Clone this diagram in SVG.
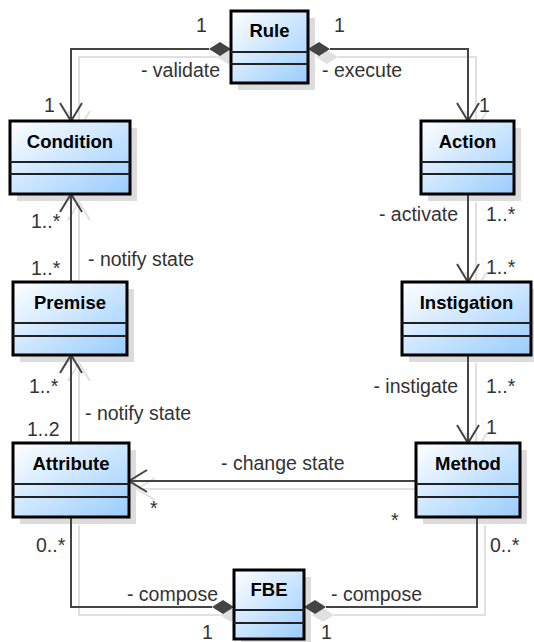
<svg xmlns="http://www.w3.org/2000/svg" xmlns:xlink="http://www.w3.org/1999/xlink" width="534" height="642" viewBox="0 0 534 642">
<defs>
<linearGradient id="fill" x1="0" y1="0" x2="1" y2="1">
<stop offset="0" stop-color="#ffffff"/>
<stop offset="1" stop-color="#99ccff"/>
</linearGradient>
<style>
.box{fill:url(#fill);stroke:#000;stroke-width:3}
.div{stroke:#222;stroke-width:2}
.sh{fill:#dcdcdc}
.name{font-family:"Liberation Sans",Arial,sans-serif;font-size:18.5px;font-weight:bold;fill:#000;text-anchor:middle}
.lbl{font-family:"Liberation Sans",Arial,sans-serif;font-size:19.5px;fill:#333}
.end{text-anchor:end}
.ln{fill:none;stroke:currentColor;stroke-width:2}
.dia{fill:currentColor;stroke:none}
</style>
</defs>
<rect width="534" height="642" fill="#fff"/>
<use xlink:href="#conn-paths" href="#conn-paths" transform="translate(8,8)" color="#e0e0e0"/>
<g id="shadows">
<rect class="sh" x="238" y="18" width="77" height="72"/>
<rect class="sh" x="17" y="128" width="120" height="73"/>
<rect class="sh" x="428" y="128" width="93" height="73"/>
<rect class="sh" x="20" y="289" width="114" height="73"/>
<rect class="sh" x="409" y="289" width="129" height="73"/>
<rect class="sh" x="20" y="450" width="116" height="74"/>
<rect class="sh" x="423" y="450" width="104" height="74"/>
<rect class="sh" x="241" y="577" width="70" height="69"/>
</g>
<g id="connectors" color="#444">
<g id="conn-paths">
<path class="ln" d="M209,49 H71 V121"/>
<path class="ln" d="M60,103 L71,121 L82,103"/>
<path class="dia" d="M209,49 L220,42 L231,49 L220,56 Z"/>
<path class="ln" d="M330,49 H468 V121"/>
<path class="ln" d="M457,103 L468,121 L479,103"/>
<path class="dia" d="M308,49 L319,42 L330,49 L319,56 Z"/>
<path class="ln" d="M71,282 V194"/>
<path class="ln" d="M60,212 L71,194 L82,212"/>
<path class="ln" d="M468,194 V282"/>
<path class="ln" d="M457,264 L468,282 L479,264"/>
<path class="ln" d="M71,443 V355"/>
<path class="ln" d="M60,373 L71,355 L82,373"/>
<path class="ln" d="M468,355 V443"/>
<path class="ln" d="M457,425 L468,443 L479,425"/>
<path class="ln" d="M416,481 H129"/>
<path class="ln" d="M147,470 L129,481 L147,492"/>
<path class="ln" d="M71,517 V607 H212"/>
<path class="dia" d="M212,607 L223,600 L234,607 L223,614 Z"/>
<path class="ln" d="M477,517 V607 H326"/>
<path class="dia" d="M304,607 L315,600 L326,607 L315,614 Z"/>
</g>
</g>
<g id="Rule">
<rect class="box" x="231" y="11" width="77" height="72"/>
<line class="div" x1="231" y1="52" x2="308" y2="52"/>
<line class="div" x1="231" y1="64" x2="308" y2="64"/>
<text class="name" x="269.5" y="37">Rule</text>
</g>
<g id="Condition">
<rect class="box" x="10" y="121" width="120" height="73"/>
<line class="div" x1="10" y1="162" x2="130" y2="162"/>
<line class="div" x1="10" y1="174" x2="130" y2="174"/>
<text class="name" x="70" y="148">Condition</text>
</g>
<g id="Action">
<rect class="box" x="421" y="121" width="93" height="73"/>
<line class="div" x1="421" y1="162" x2="514" y2="162"/>
<line class="div" x1="421" y1="174" x2="514" y2="174"/>
<text class="name" x="467.5" y="148">Action</text>
</g>
<g id="Premise">
<rect class="box" x="13" y="282" width="114" height="73"/>
<line class="div" x1="13" y1="323" x2="127" y2="323"/>
<line class="div" x1="13" y1="336" x2="127" y2="336"/>
<text class="name" x="70" y="309">Premise</text>
</g>
<g id="Instigation">
<rect class="box" x="402" y="282" width="129" height="73"/>
<line class="div" x1="402" y1="323" x2="531" y2="323"/>
<line class="div" x1="402" y1="336" x2="531" y2="336"/>
<text class="name" x="466.5" y="309">Instigation</text>
</g>
<g id="Attribute">
<rect class="box" x="13" y="443" width="116" height="74"/>
<line class="div" x1="13" y1="484" x2="129" y2="484"/>
<line class="div" x1="13" y1="497" x2="129" y2="497"/>
<text class="name" x="71" y="470">Attribute</text>
</g>
<g id="Method">
<rect class="box" x="416" y="443" width="104" height="74"/>
<line class="div" x1="416" y1="484" x2="520" y2="484"/>
<line class="div" x1="416" y1="497" x2="520" y2="497"/>
<text class="name" x="468" y="470">Method</text>
</g>
<g id="FBE">
<rect class="box" x="234" y="570" width="70" height="69"/>
<line class="div" x1="234" y1="610" x2="304" y2="610"/>
<line class="div" x1="234" y1="623" x2="304" y2="623"/>
<text class="name" x="269" y="596">FBE</text>
</g>
<g id="labels">
<text class="lbl" x="196" y="32">1</text>
<text class="lbl" x="334" y="32">1</text>
<text class="lbl end" x="220" y="77">- validate</text>
<text class="lbl" x="322" y="77">- execute</text>
<text class="lbl" x="44" y="112">1</text>
<text class="lbl" x="479" y="112">1</text>
<text class="lbl" x="31" y="228">1..*</text>
<text class="lbl" x="31" y="275">1..*</text>
<text class="lbl" x="88" y="266">- notify state</text>
<text class="lbl end" x="458" y="221">- activate</text>
<text class="lbl" x="486" y="221">1..*</text>
<text class="lbl" x="486" y="274">1..*</text>
<text class="lbl" x="29" y="393">1..*</text>
<text class="lbl end" x="458" y="393">- instigate</text>
<text class="lbl" x="486" y="393">1..*</text>
<text class="lbl" x="85" y="420">- notify state</text>
<text class="lbl" x="27" y="436">1..2</text>
<text class="lbl" x="486" y="434">1</text>
<text class="lbl" x="221" y="470">- change state</text>
<text class="lbl" x="150" y="515">*</text>
<text class="lbl" x="391" y="527">*</text>
<text class="lbl" x="36" y="552">0..*</text>
<text class="lbl" x="490" y="552">0..*</text>
<text class="lbl end" x="218" y="601">- compose</text>
<text class="lbl" x="331" y="601">- compose</text>
<text class="lbl" x="202" y="639">1</text>
<text class="lbl" x="321" y="639">1</text>
</g>
</svg>
